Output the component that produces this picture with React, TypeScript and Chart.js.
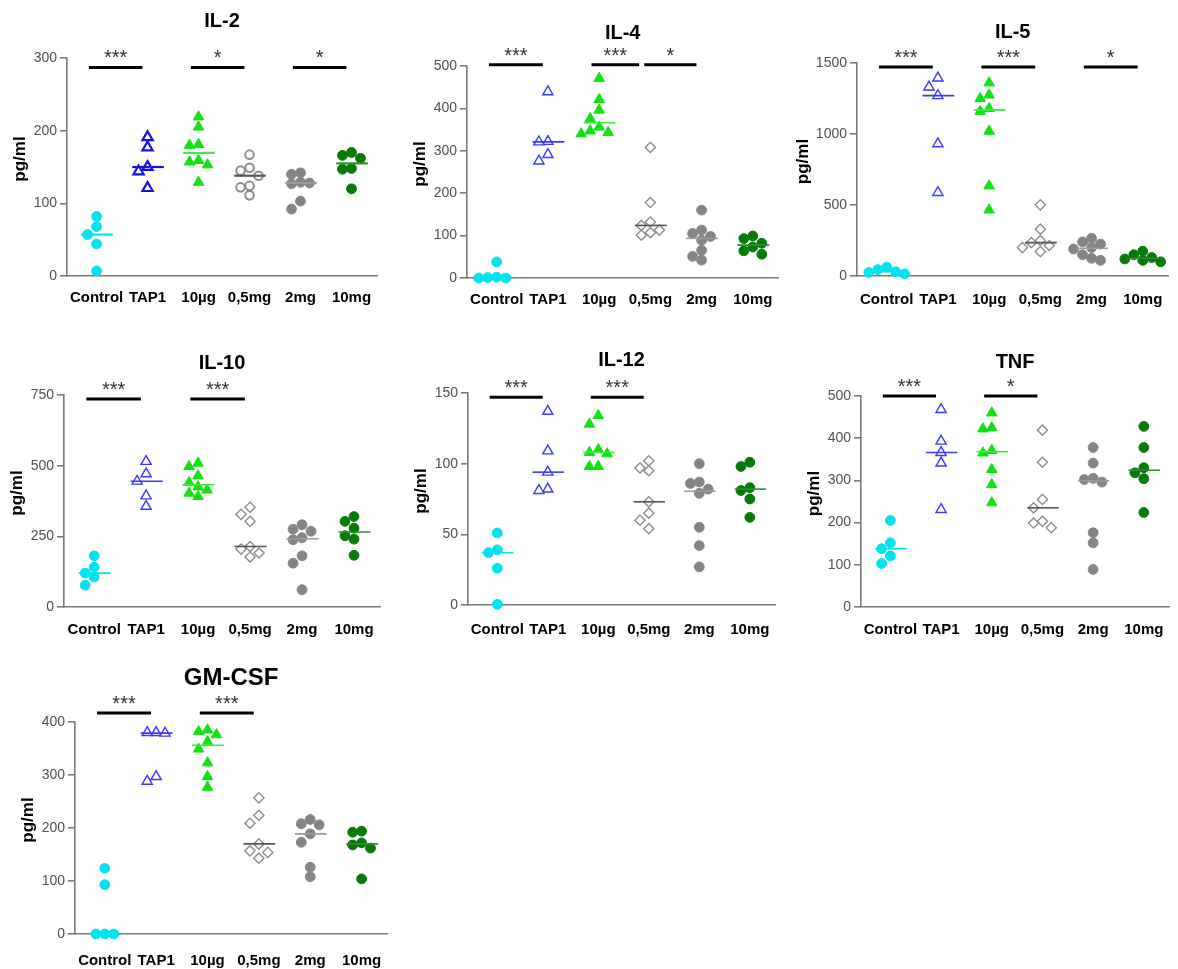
import { useEffect, useRef } from 'react';
import { Chart, registerables } from 'chart.js';
Chart.register(...registerables);

const FONT = '"Liberation Sans", Arial, Helvetica, sans-serif';
const AXIS = '#7a7a7a';
const TICK = '#505050';

const categories = ['Control', 'TAP1', '10µg', '0,5mg', '2mg', '10mg'];
const yTitle = 'pg/ml';

// pg/ml values per group: Control, TAP1, 10µg, 0,5mg, 2mg, 10mg
const il2 = [
  [82, 68, 57, 44, 7],
  [191, 177, 150, 144, 121],
  [219, 205, 181, 180, 159, 157, 153, 129],
  [167, 149, 145, 138, 124, 122, 111],
  [142, 140, 129, 128, 127, 103, 92],
  [170, 166, 162, 148, 147, 120],
];
const il4 = [
  [38, 2, 1, 0, 0],
  [439, 322, 321, 291, 276],
  [471, 421, 396, 376, 356, 347, 343, 340],
  [308, 178, 132, 124, 113, 107, 101],
  [160, 113, 105, 98, 89, 65, 51, 42],
  [99, 93, 82, 73, 64, 56],
];
const il5 = [
  [62, 45, 30, 25, 15],
  [1394, 1331, 1270, 931, 588],
  [1360, 1275, 1250, 1180, 1160, 1020, 635, 465],
  [501, 330, 250, 235, 215, 200, 172],
  [266, 240, 225, 200, 190, 150, 125, 110],
  [175, 150, 130, 120, 110, 100],
];
const il10 = [
  [181, 141, 120, 106, 77],
  [515, 471, 445, 393, 356],
  [509, 497, 464, 440, 425, 414, 403, 391],
  [353, 328, 303, 214, 205, 191, 177],
  [291, 275, 268, 245, 238, 181, 155, 61],
  [320, 303, 279, 252, 240, 183],
];
const il12 = [
  [51, 39, 37, 26, 0.5],
  [137, 109, 94, 82, 81],
  [134, 128, 110, 108, 107, 98, 98],
  [102, 97, 95, 73, 65, 60, 54],
  [100, 87, 86, 82, 79, 55, 42, 27],
  [101, 98, 83, 81, 75, 62],
];
const tnf = [
  [205, 152, 138, 121, 103],
  [468, 393, 366, 341, 231],
  [460, 425, 422, 371, 365, 326, 290, 247],
  [419, 343, 255, 235, 203, 199, 188],
  [378, 341, 305, 302, 296, 176, 152, 89],
  [428, 378, 330, 318, 304, 224],
];
const gmcsf = [
  [124, 93, 0, 0, 0],
  [380, 380, 379, 297, 288],
  [385, 382, 376, 363, 349, 323, 297, 277],
  [257, 224, 209, 170, 157, 154, 143],
  [216, 208, 206, 189, 173, 126, 108],
  [194, 192, 172, 168, 162, 104],
];

// significance brackets: [from group, to group, label]
type Sig = [number, number, string];
const il2Sig: Sig[] = [[0, 1, '***'], [2, 3, '*'], [4, 5, '*']];
const il4Sig: Sig[] = [[0, 1, '***'], [2, 3, '***'], [3, 4, '*']];
const il5Sig: Sig[] = [[0, 1, '***'], [2, 3, '***'], [4, 5, '*']];
const il10Sig: Sig[] = [[0, 1, '***'], [2, 3, '***']];
const il12Sig: Sig[] = [[0, 1, '***'], [2, 3, '***']];
const tnfSig: Sig[] = [[0, 1, '***'], [2, 3, '*']];
const gmcsfSig: Sig[] = [[0, 1, '***'], [2, 3, '***']];

type Box = { x: number; y: number; w: number; h: number };
type Area = { left: number; top: number; right: number; bottom: number };
type Panel = {
  title: string;
  groups: number[][];
  yMax: number;
  yStep: number;
  sig: Sig[];
  sigLevel: number;
  box: Box;
  area: Area;
  titleY: number;
  titleSize: number;
  labelY: number;
  heavy?: boolean;
};

const panels: Panel[] = [
  { title: 'IL-2', groups: il2, yMax: 300, yStep: 100, sig: il2Sig, sigLevel: 287,
    box: { x: 0, y: 0, w: 392, h: 318 }, area: { left: 67, top: 58, right: 377, bottom: 276 },
    titleY: 21, titleSize: 20, labelY: 298, heavy: true },
  { title: 'IL-4', groups: il4, yMax: 500, yStep: 100, sig: il4Sig, sigLevel: 503,
    box: { x: 400, y: 0, w: 386, h: 318 }, area: { left: 467, top: 66, right: 779, bottom: 278 },
    titleY: 33, titleSize: 20, labelY: 300 },
  { title: 'IL-5', groups: il5, yMax: 1500, yStep: 500, sig: il5Sig, sigLevel: 1472,
    box: { x: 790, y: 0, w: 388, h: 318 }, area: { left: 857, top: 63, right: 1170, bottom: 276 },
    titleY: 32, titleSize: 20, labelY: 300 },
  { title: 'IL-10', groups: il10, yMax: 750, yStep: 250, sig: il10Sig, sigLevel: 736,
    box: { x: 0, y: 320, w: 392, h: 326 }, area: { left: 64, top: 395, right: 380, bottom: 607 },
    titleY: 363, titleSize: 20, labelY: 630 },
  { title: 'IL-12', groups: il12, yMax: 150, yStep: 50, sig: il12Sig, sigLevel: 147,
    box: { x: 400, y: 320, w: 386, h: 326 }, area: { left: 468, top: 393, right: 780, bottom: 605 },
    titleY: 360, titleSize: 20, labelY: 630 },
  { title: 'TNF', groups: tnf, yMax: 500, yStep: 100, sig: tnfSig, sigLevel: 500,
    box: { x: 790, y: 320, w: 388, h: 326 }, area: { left: 861, top: 396, right: 1175, bottom: 607 },
    titleY: 362, titleSize: 20, labelY: 630 },
  { title: 'GM-CSF', groups: gmcsf, yMax: 400, yStep: 100, sig: gmcsfSig, sigLevel: 417,
    box: { x: 0, y: 650, w: 400, h: 319 }, area: { left: 75, top: 722, right: 390, bottom: 934 },
    titleY: 678, titleSize: 24, labelY: 961 },
];

const XMIN = -0.58;
const XMAX = 5.5;

type GStyle = { shape: string; r: number; fill: string; stroke: string; bw: number; line: string };
const groupStyles: GStyle[] = [
  { shape: 'circle', r: 4.9, fill: '#00E4F0', stroke: '#00E4F0', bw: 1, line: '#00E4F0' },
  { shape: 'triangle', r: 5.9, fill: '#FFFFFF', stroke: '#3A3AFF', bw: 1.4, line: '#3A3AFF' },
  { shape: 'triangle', r: 6.1, fill: '#12E212', stroke: '#12E212', bw: 1, line: '#3FEA3F' },
  { shape: 'rectRot', r: 5.1, fill: '#FFFFFF', stroke: '#8C8C8C', bw: 1.4, line: '#555555' },
  { shape: 'circle', r: 4.9, fill: '#858585', stroke: '#858585', bw: 1, line: '#9A9A9A' },
  { shape: 'circle', r: 4.9, fill: '#067A06', stroke: '#067A06', bw: 1, line: '#2E8E2E' },
];

function median(vals: number[]): number {
  const s = [...vals].sort((a, b) => a - b);
  const n = s.length;
  return n % 2 ? s[(n - 1) / 2] : (s[n / 2 - 1] + s[n / 2]) / 2;
}

// simple column-scatter spreading of overlapping points (in pixel space)
function swarm(values: number[], pxPerY: number, pxPerX: number): number[] {
  const order = values.map((_, i) => i).sort((a, b) => values[b] - values[a]);
  const placed: { x: number; y: number }[] = [];
  const out = values.map(() => 0);
  const D = 9;
  const STEP = 9;
  const cands = [0, -1, 1, -2, 2, -3, 3, -4, 4];
  for (const i of order) {
    const py = values[i] * pxPerY;
    let chosen = 0;
    for (const c of cands) {
      const px = c * STEP;
      if (placed.every((q) => Math.hypot(q.x - px, q.y - py) >= D)) {
        chosen = px;
        break;
      }
    }
    placed.push({ x: chosen, y: py });
    out[i] = chosen / pxPerX;
  }
  return out;
}

function buildConfig(p: Panel): any {
  const { box: b, area: a } = p;
  const pxPerY = (a.bottom - a.top) / p.yMax;
  const pxPerX = (a.right - a.left) / (XMAX - XMIN);
  const datasets = p.groups.map((vals, gi) => {
    const st = groupStyles[gi];
    const offs = swarm(vals, pxPerY, pxPerX);
    let shape = st.shape;
    let stroke = st.stroke;
    let bw = st.bw;
    let r = st.r;
    if (p.heavy && gi === 3) { shape = 'circle'; bw = 2; r = 4.3; }
    if (p.heavy && gi === 1) { stroke = '#1212E8'; bw = 2.2; }
    return {
      label: categories[gi],
      data: vals.map((v, k) => ({ x: gi + offs[k], y: v })),
      pointStyle: shape,
      pointRadius: r,
      pointBackgroundColor: st.fill,
      pointBorderColor: stroke,
      pointBorderWidth: bw,
      backgroundColor: st.fill,
      borderColor: stroke,
      showLine: false,
      clip: false,
    };
  });

  const decor = {
    id: 'decor',
    afterDatasetsDraw(chart: any) {
      const { ctx, chartArea: ca, scales } = chart;
      const x = scales.x;
      const y = scales.y;
      ctx.save();
      // medians
      p.groups.forEach((vals, gi) => {
        const py = y.getPixelForValue(median(vals));
        ctx.strokeStyle = p.heavy && gi === 1 ? '#1212E8' : groupStyles[gi].line;
        ctx.lineWidth = p.heavy ? 2.2 : 1.6;
        ctx.beginPath();
        ctx.moveTo(x.getPixelForValue(gi - 0.3), py);
        ctx.lineTo(x.getPixelForValue(gi + 0.32), py);
        ctx.stroke();
      });
      // significance bars
      const by = y.getPixelForValue(p.sigLevel);
      p.sig.forEach(([g1, g2, label]) => {
        const sharedStart = p.sig.some((s) => s[1] === g1);
        const sharedEnd = p.sig.some((s) => s[0] === g2);
        const x1 = x.getPixelForValue(g1 - (sharedStart ? 0.12 : 0.15));
        const x2 = x.getPixelForValue(g2 - (sharedEnd ? 0.22 : 0.1));
        ctx.strokeStyle = '#000';
        ctx.lineWidth = 3;
        ctx.beginPath();
        ctx.moveTo(x1, by);
        ctx.lineTo(x2, by);
        ctx.stroke();
        ctx.fillStyle = '#333';
        ctx.font = `20px ${FONT}`;
        ctx.textAlign = 'center';
        ctx.textBaseline = 'alphabetic';
        ctx.fillText(label, (x1 + x2) / 2, by - 3);
      });
      // title
      ctx.fillStyle = '#000';
      ctx.font = `bold ${p.titleSize}px ${FONT}`;
      ctx.textAlign = 'center';
      ctx.textBaseline = 'middle';
      ctx.fillText(p.title, (ca.left + ca.right) / 2, p.titleY - b.y);
      // y axis title
      ctx.font = `14px ${FONT}`;
      const tw = ctx.measureText(String(p.yMax)).width;
      ctx.font = `bold 17px ${FONT}`;
      ctx.translate(ca.left - tw - 23, (ca.top + ca.bottom) / 2 - 8);
      ctx.rotate(-Math.PI / 2);
      ctx.fillText(yTitle, 0, 0);
      ctx.restore();
    },
  };

  return {
    type: 'scatter',
    data: { datasets },
    plugins: [decor],
    options: {
      responsive: false,
      animation: false,
      events: [],
      layout: { padding: { left: 0, top: a.top - b.y, right: b.x + b.w - a.right, bottom: 0 } },
      plugins: { legend: { display: false }, tooltip: { enabled: false }, title: { display: false } },
      scales: {
        x: {
          type: 'linear',
          min: XMIN,
          max: XMAX,
          afterBuildTicks: (s: any) => {
            s.ticks = categories.map((_, i) => ({ value: i }));
          },
          afterFit: (s: any) => {
            s.height = b.y + b.h - a.bottom;
          },
          grid: { display: false, drawTicks: false },
          border: { display: true, color: AXIS, width: 1.6 },
          ticks: {
            autoSkip: false,
            maxRotation: 0,
            padding: p.labelY - a.bottom - 9,
            color: '#000',
            font: { family: FONT, size: 15, weight: 'bold' },
            callback: (v: any) => categories[v as number] ?? '',
          },
        },
        y: {
          min: 0,
          max: p.yMax,
          afterFit: (s: any) => {
            s.width = a.left - b.x;
          },
          ticks: {
            stepSize: p.yStep,
            padding: 3,
            color: TICK,
            font: { family: FONT, size: 14 },
            callback: (v: any) => String(v),
          },
          grid: { drawOnChartArea: false, drawTicks: true, tickLength: 7, color: AXIS, lineWidth: 1.6 },
          border: { display: true, color: AXIS, width: 1.6 },
        },
      },
    },
  };
}

function PanelChart({ p }: { p: Panel }) {
  const ref = useRef<HTMLCanvasElement>(null);
  useEffect(() => {
    const chart = new Chart(ref.current as HTMLCanvasElement, buildConfig(p));
    return () => chart.destroy();
  }, [p]);
  return (
    <canvas
      ref={ref}
      width={p.box.w}
      height={p.box.h}
      style={{ position: 'absolute', left: p.box.x, top: p.box.y, width: p.box.w, height: p.box.h }}
    />
  );
}

export default function App() {
  return (
    <div style={{ position: 'absolute', left: 0, top: 0, width: 1178, height: 969, background: '#fff', overflow: 'hidden' }}>
      {panels.map((p) => (
        <PanelChart key={p.title} p={p} />
      ))}
    </div>
  );
}
